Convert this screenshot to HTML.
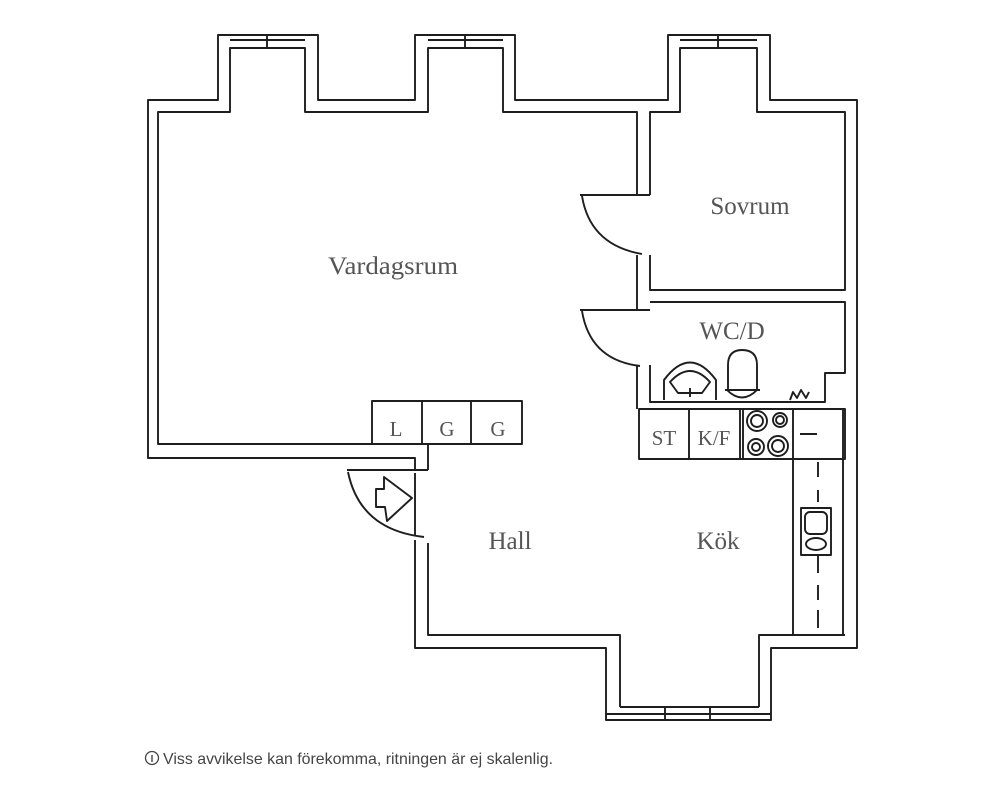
<!DOCTYPE html>
<html><head><meta charset="utf-8"><style>
html,body{margin:0;padding:0;background:#fff;width:1000px;height:795px;overflow:hidden}
svg{display:block}
.w{fill:none;stroke:#1e1e1e;stroke-width:1.9;stroke-linejoin:round}
.t{fill:#555;font-family:"Liberation Serif",serif;font-size:25px;text-anchor:middle}
</style></head><body>
<svg width="1000" height="795" viewBox="0 0 1000 795">
<g class="w">
<polyline points="415,470 415,458 148,458 148,100 218,100 218,35 318,35 318,100 415,100 415,35 515,35 515,100 668,100 668,35 770,35 770,100 857,100 857,648 771,648 771,720 606,720 606,648 415,648 415,540"/>
<polyline points="428,444 428,470"/>
<polyline points="372,444 158,444 158,112 230,112 230,48 305,48 305,112 428,112 428,48 503,48 503,112 637,112 637,195"/>
<polyline points="650,195 650,112 680,112 680,48 757,48 757,112 845,112 845,290 650,290 650,255"/>
<polyline points="637,255 637,290"/>
<line x1="230" y1="40" x2="305" y2="40"/><line x1="267" y1="35" x2="267" y2="48"/>
<line x1="428" y1="40" x2="503" y2="40"/><line x1="465" y1="35" x2="465" y2="48"/>
<line x1="680" y1="40" x2="757" y2="40"/><line x1="718" y1="35" x2="718" y2="48"/>
<line x1="620" y1="707" x2="759" y2="707"/><line x1="606" y1="714" x2="771" y2="714"/>
<line x1="665" y1="707" x2="665" y2="720"/><line x1="710" y1="707" x2="710" y2="720"/>
<polyline points="580,195 650,195"/>
<path d="M582,196 Q590,245 642,254"/>
<polyline points="637,290 637,310"/>
<polyline points="650,302 845,302 845,373 825,373 825,402 650,402 650,365"/>
<polyline points="637,365 637,409"/>
<line x1="580" y1="310" x2="650" y2="310"/>
<path d="M582,311 Q590,360 640,366"/>
<path d="M664,400 L664,380 Q690,345 716,380 L716,400"/>
<path d="M670,382 Q690,360 710,382 L702,393 L678,393 Z"/>
<line x1="690" y1="388" x2="690" y2="397"/>
<path d="M728,390 L728,365 Q728,350 742,350 Q757,350 757,365 L757,390 Z"/>
<path d="M727,390 Q742,405 757,390"/>
<line x1="725" y1="390" x2="760" y2="390"/>
<path d="M790,400 l3,-8 l4,6 l4,-8 l5,8 l3,-6"/>
<rect x="639" y="409" width="206" height="50"/>
<line x1="689" y1="409" x2="689" y2="459"/>
<line x1="740" y1="409" x2="740" y2="459"/>
<line x1="743" y1="409" x2="743" y2="459"/>
<line x1="793" y1="409" x2="793" y2="459"/>
<polyline points="793,459 793,635 845,635"/>
<line x1="843" y1="409" x2="843" y2="635"/>
<circle cx="757" cy="421" r="10"/><circle cx="757" cy="421" r="6"/>
<circle cx="780" cy="420" r="7"/><circle cx="780" cy="420" r="4"/>
<circle cx="756" cy="447" r="8"/><circle cx="756" cy="447" r="4"/>
<circle cx="778" cy="446" r="10"/><circle cx="778" cy="446" r="6"/>
<line x1="800" y1="434" x2="817" y2="434"/>
<path d="M818,462 v15 M818,490 v12 M818,555 v18 M818,585 v15 M818,610 v18" />
<rect x="801" y="508" width="30" height="47"/>
<rect x="805" y="512" width="22" height="22" rx="5"/>
<ellipse cx="816" cy="544" rx="10" ry="6"/>
<rect x="372" y="401" width="150" height="43"/>
<line x1="422" y1="401" x2="422" y2="444"/>
<line x1="471" y1="401" x2="471" y2="444"/>
<polyline points="347,470 428,470"/>
<line x1="415" y1="473" x2="415" y2="536"/>
<path d="M348,472 Q360,530 424,537"/>
<polygon points="376,489 384,489 384,477 412,498 387,521 385,507 376,507"/>
<polyline points="428,543 428,635 620,635 620,707"/>
<polyline points="759,707 759,635 793,635"/>
</g>
<g class="t">
<text x="393" y="274" textLength="130" lengthAdjust="spacingAndGlyphs">Vardagsrum</text>
<text x="750" y="214">Sovrum</text>
<text x="732" y="339">WC/D</text>
<text x="396" y="436" style="font-size:21px">L</text>
<text x="447" y="436" style="font-size:21px">G</text>
<text x="498" y="436" style="font-size:21px">G</text>
<text x="664" y="445" style="font-size:21px">ST</text>
<text x="714" y="445" style="font-size:21px">K/F</text>
<text x="510" y="549">Hall</text>
<text x="718" y="549">Kök</text>
</g>
<circle cx="152" cy="758" r="6.5" fill="none" stroke="#444" stroke-width="1.3"/>
<line x1="152" y1="755" x2="152" y2="762" stroke="#444" stroke-width="1.4"/>
<text x="163" y="764" fill="#444" font-family="'Liberation Sans',sans-serif" font-size="16" textLength="390" lengthAdjust="spacingAndGlyphs">Viss avvikelse kan förekomma, ritningen är ej skalenlig.</text>
</svg>
</body></html>
